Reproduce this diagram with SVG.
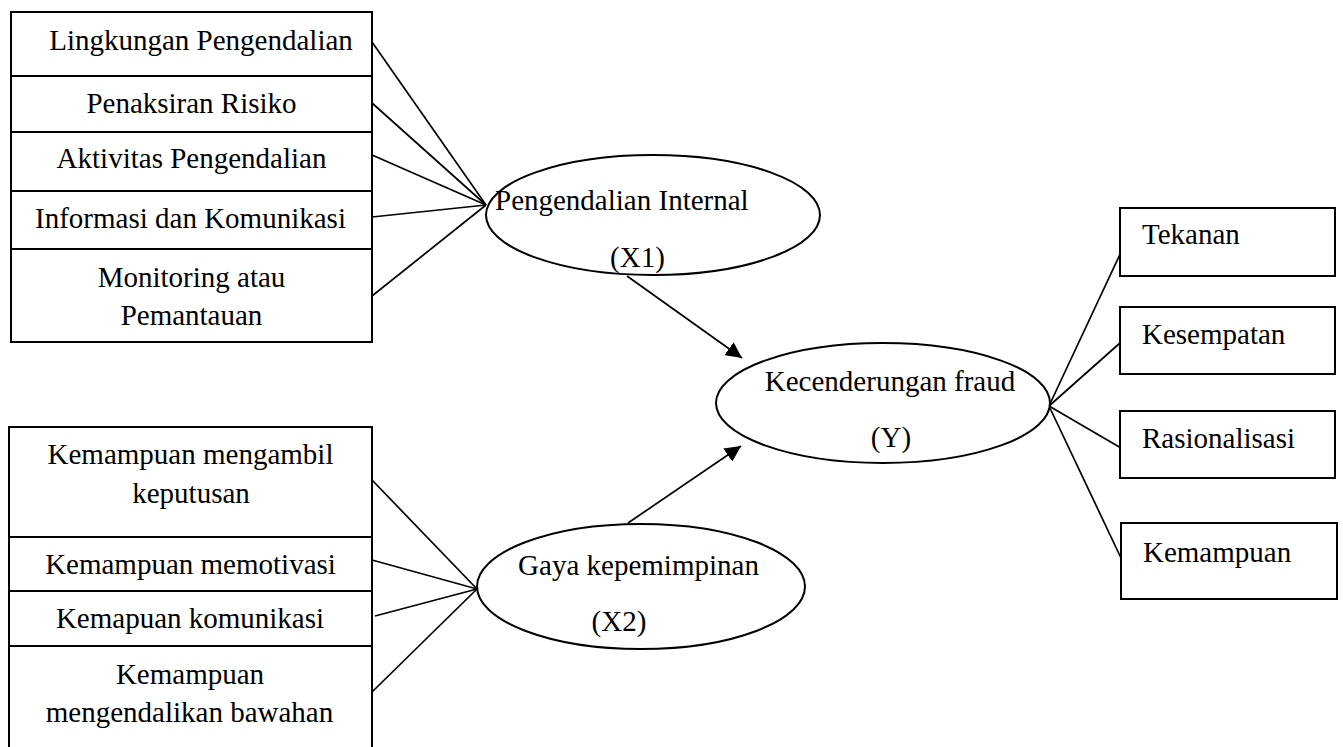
<svg xmlns="http://www.w3.org/2000/svg" width="1343" height="747" viewBox="0 0 1343 747" font-family="'Liberation Serif', 'Times New Roman', serif" font-size="29">
<defs>
<marker id="arr" viewBox="0 0 10 10" refX="10" refY="5" markerWidth="16" markerHeight="16" markerUnits="userSpaceOnUse" orient="auto">
<path d="M0,0 L10,5 L0,10 Z" fill="#000"/>
</marker>
<style>
text{font-family:"Liberation Serif","Times New Roman",serif;font-size:29px;fill:#000}
.m{text-anchor:middle}
.box{fill:#fff;stroke:#000;stroke-width:2}
.ell{fill:#fff;stroke:#000;stroke-width:2}
.ln{stroke:#000;stroke-width:1.7;fill:none}
.dv{stroke:#000;stroke-width:2.2;fill:none}
</style>
</defs>
<rect width="1343" height="747" fill="#fff"/>
<g id="connectors">
<line class="ln" x1="372" y1="42" x2="486" y2="205"/>
<line class="ln" x1="372" y1="103" x2="486" y2="205"/>
<line class="ln" x1="372" y1="155" x2="486" y2="205"/>
<line class="ln" x1="372" y1="217" x2="486" y2="205"/>
<line class="ln" x1="372" y1="296" x2="486" y2="205"/>
<line class="ln" x1="372" y1="480" x2="477" y2="589"/>
<line class="ln" x1="372" y1="560" x2="477" y2="589"/>
<line class="ln" x1="375" y1="616" x2="477" y2="589"/>
<line class="ln" x1="372" y1="692" x2="477" y2="589"/>
<line class="ln" x1="627" y1="276" x2="742" y2="358" marker-end="url(#arr)"/>
<line class="ln" x1="628" y1="523" x2="741" y2="446" marker-end="url(#arr)"/>
<line class="ln" x1="1049" y1="406" x2="1122" y2="250"/>
<line class="ln" x1="1049" y1="406" x2="1120" y2="343"/>
<line class="ln" x1="1049" y1="406" x2="1121" y2="448"/>
<line class="ln" x1="1049" y1="406" x2="1121" y2="558"/>
</g>
<g id="x1-indicators">
<rect class="box" x="11" y="12" width="361" height="330"/>
<line class="dv" x1="11" y1="76" x2="372" y2="76"/>
<line class="dv" x1="11" y1="132" x2="372" y2="132"/>
<line class="dv" x1="11" y1="191" x2="372" y2="191"/>
<line class="dv" x1="11" y1="249" x2="372" y2="249"/>
<text class="m" x="201" y="50">Lingkungan Pengendalian</text>
<text class="m" x="191.5" y="113">Penaksiran Risiko</text>
<text class="m" x="191.5" y="168">Aktivitas Pengendalian</text>
<text class="m" x="190.5" y="228">Informasi dan Komunikasi</text>
<text class="m" x="191.5" y="287">Monitoring atau</text>
<text class="m" x="191.5" y="325">Pemantauan</text>
</g>
<g id="x2-indicators">
<path class="box" d="M9,760 L9,427 L372,427 L372,760"/>
<line class="dv" x1="9" y1="537" x2="372" y2="537"/>
<line class="dv" x1="9" y1="591" x2="372" y2="591"/>
<line class="dv" x1="9" y1="646" x2="372" y2="646"/>
<text class="m" x="190.5" y="464">Kemampuan mengambil</text>
<text class="m" x="191" y="503">keputusan</text>
<text class="m" x="190.5" y="574">Kemampuan memotivasi</text>
<text class="m" x="190" y="628">Kemapuan komunikasi</text>
<text class="m" x="190" y="684">Kemampuan</text>
<text class="m" x="189.5" y="722">mengendalikan bawahan</text>
</g>
<g id="x1">
<ellipse class="ell" cx="653" cy="215" rx="167" ry="60"/>
<text x="495" y="210">Pengendalian Internal</text>
<text class="m" x="637.5" y="267">(X1)</text>
</g>
<g id="x2">
<ellipse class="ell" cx="641" cy="586.5" rx="164" ry="62.5"/>
<text class="m" x="638.5" y="575">Gaya kepemimpinan</text>
<text class="m" x="619" y="631">(X2)</text>
</g>
<g id="y">
<ellipse class="ell" cx="883" cy="403" rx="167" ry="60"/>
<text class="m" x="890" y="391">Kecenderungan fraud</text>
<text class="m" x="891" y="447">(Y)</text>
</g>
<g id="tekanan">
<rect class="box" x="1120" y="208" width="215" height="68"/>
<text x="1142" y="244">Tekanan</text>
</g>
<g id="kesempatan">
<rect class="box" x="1120" y="307" width="215" height="67"/>
<text x="1142" y="344">Kesempatan</text>
</g>
<g id="rasionalisasi">
<rect class="box" x="1120" y="411" width="215" height="67"/>
<text x="1142" y="448">Rasionalisasi</text>
</g>
<g id="kemampuan">
<rect class="box" x="1121" y="523" width="216" height="76"/>
<text x="1143" y="562">Kemampuan</text>
</g>
</svg>
